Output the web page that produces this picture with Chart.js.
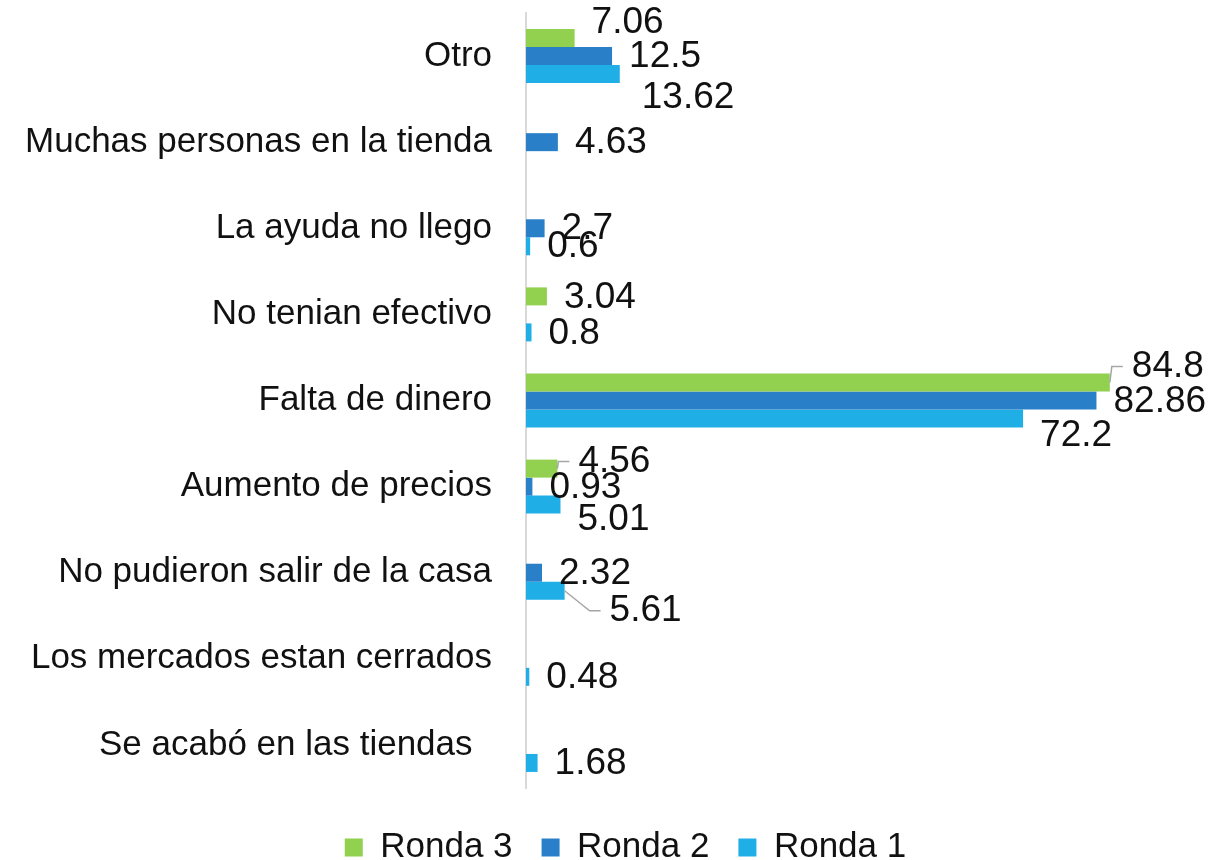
<!DOCTYPE html>
<html>
<head>
<meta charset="utf-8">
<script src="https://cdn.jsdelivr.net/npm/chart.js@4"></script>
<style>
  html, body { margin: 0; padding: 0; background: #fff; }
  #wrap { width: 1231px; height: 860px; }
</style>
</head>
<body>
<div id="wrap"><canvas id="barChart" width="1231" height="860"></canvas></div>
<script>
  // categories and values
  const categories = ['Otro', 'Muchas personas en la tienda', 'La ayuda no llego', 'No tenian efectivo',
    'Falta de dinero', 'Aumento de precios', 'No pudieron salir de la casa',
    'Los mercados estan cerrados', 'Se acabó en las tiendas  '];
  const seriesNames = ['Ronda 3', 'Ronda 2', 'Ronda 1'];
  const ronda3 = [7.06, null, null, 3.04, 84.8, 4.56, null, null, null];
  const ronda2 = [12.5, 4.63, 2.7, null, 82.86, 0.93, 2.32, null, null];
  const ronda1 = [13.62, null, 0.6, 0.8, 72.2, 5.01, 5.61, 0.48, 1.68];

  const colors = ['#92D050', '#2980C8', '#1FAEE6'];

  // hand-placed data labels (like in Excel): [dataset, index] -> nudge in px, plus leader line
  const labelNudge = {
    '0-0': { dx: 0, dy: -16 },
    '2-0': { dx: 5, dy: 23 },
    '0-4': { dx: 5, dy: -17, leader: true },
    '2-4': { dx: 0, dy: 16 },
    '0-5': { dx: 4, dy: -8, leader: true },
    '2-5': { dx: 0, dy: 14 },
    '2-6': { dx: 28, dy: 19, leader: true }
  };

  const valueLabels = {
    id: 'valueLabels',
    afterDatasetsDraw(chart) {
      const ctx = chart.ctx;
      ctx.save();
      ctx.font = '37px "Liberation Sans", Arial, sans-serif';
      ctx.textAlign = 'left';
      ctx.textBaseline = 'middle';
      chart.data.datasets.forEach((ds, di) => {
        const meta = chart.getDatasetMeta(di);
        ds.data.forEach((v, i) => {
          if (v === null) return;
          const el = meta.data[i];
          const n = labelNudge[di + '-' + i] || { dx: 0, dy: 0 };
          const tx = el.x + 17 + n.dx;
          const ty = el.y + 1 + n.dy;
          if (n.leader) {
            ctx.strokeStyle = '#A6A6A6';
            ctx.lineWidth = 1.5;
            ctx.beginPath();
            ctx.moveTo(el.x, el.y);
            ctx.lineTo(tx - 20, ty);
            ctx.lineTo(tx - 9, ty);
            ctx.stroke();
          }
          ctx.fillStyle = '#111';
          ctx.fillText(String(v), tx, ty);
        });
      });
      ctx.restore();
    }
  };

  Chart.defaults.font.family = '"Liberation Sans", Arial, sans-serif';
  Chart.defaults.font.size = 35;
  Chart.defaults.color = '#111';

  const ctx = document.getElementById('barChart').getContext('2d');
  const barChart = new Chart(ctx, {
    type: 'bar',
    data: {
      labels: categories,
      datasets: [ronda3, ronda2, ronda1].map((vals, k) => ({
        label: seriesNames[k],
        data: vals,
        backgroundColor: colors[k],
        borderWidth: 0,
        barPercentage: 1,
        categoryPercentage: 0.627
      }))
    },
    options: {
      indexAxis: 'y',
      responsive: false,
      animation: false,
      layout: { padding: { left: 20, right: 0, top: 13, bottom: -15 } },
      scales: {
        x: {
          min: 0,
          max: 102.4,
          grid: { display: false },
          border: { display: false },
          ticks: { display: false },
          afterFit(scale) { scale.height = 13; }
        },
        y: {
          grid: { display: false, drawTicks: false },
          border: { display: true, color: '#D9D9D9', width: 2 },
          ticks: { padding: 34, color: '#111', font: { size: 35 } },
          afterFit(scale) {
            scale.width = 506;
            scale.paddingTop = 0;
            scale.paddingBottom = 0;
          }
        }
      },
      plugins: {
        legend: {
          position: 'bottom',
          labels: { boxWidth: 18, boxHeight: 18, padding: 29, color: '#111', font: { size: 35 } }
        },
        tooltip: { enabled: false }
      }
    },
    plugins: [valueLabels]
  });
</script>
</body>
</html>
